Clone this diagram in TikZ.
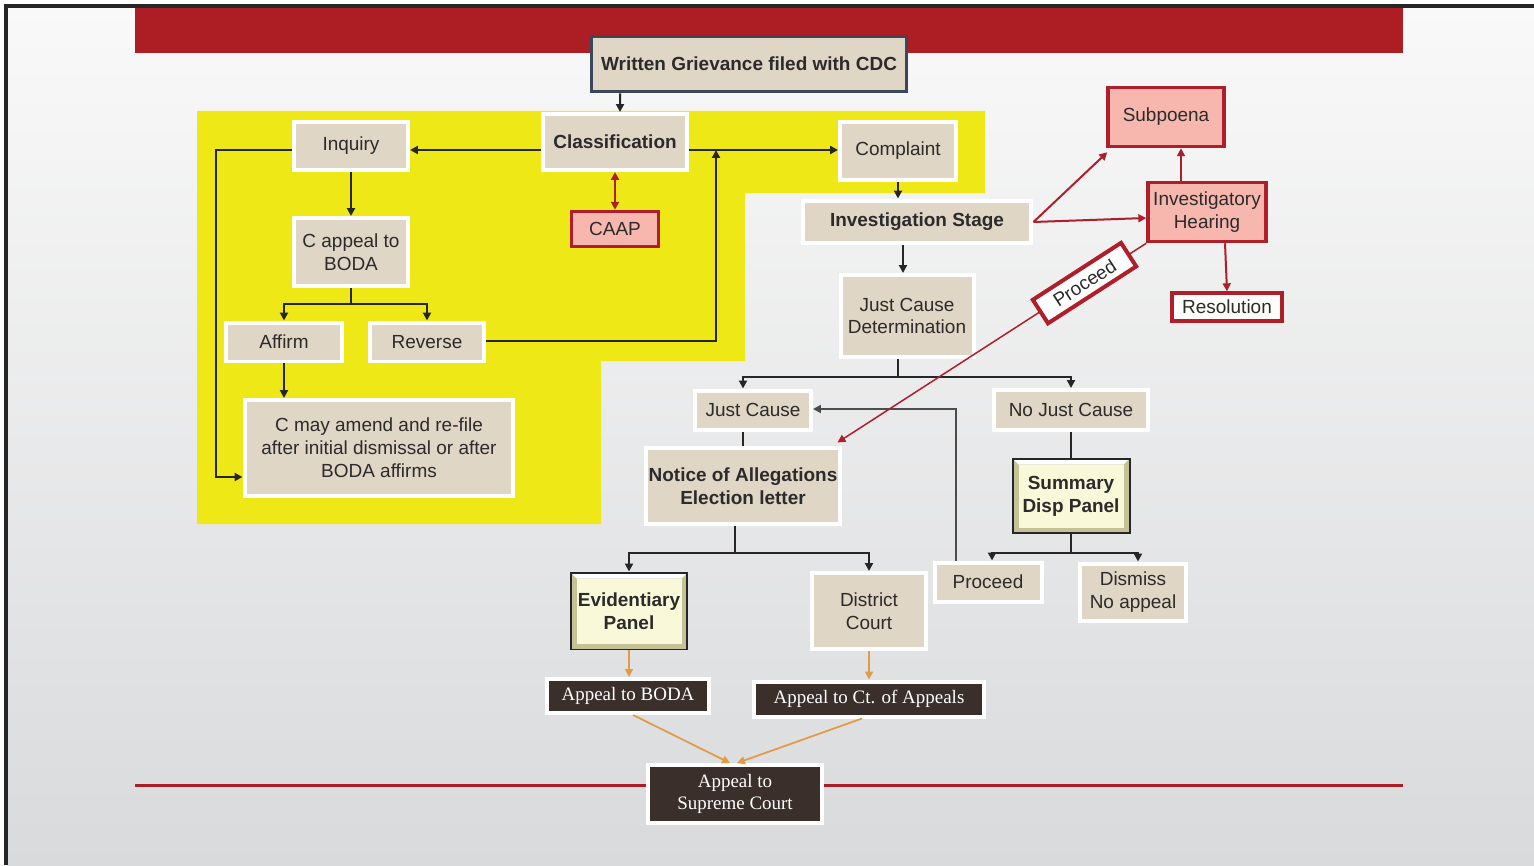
\documentclass[tikz,border=0pt]{standalone}
\usepackage{fontspec}
\setmainfont{Liberation Sans}
\newfontfamily\courtfont{Liberation Serif}
\usepackage{tikz}
\usetikzlibrary{arrows.meta,positioning,calc}
\definecolor{bandred}{HTML}{AC1D24}
\definecolor{areayellow}{HTML}{EEE817}
\definecolor{boxbeige}{HTML}{DFD6C6}
\definecolor{pinkfill}{HTML}{F7B6AE}
\definecolor{redline}{HTML}{AF1F2B}
\definecolor{courtdark}{HTML}{3A2F2B}
\definecolor{panelyellow}{HTML}{F9F9DA}
\definecolor{panelshade}{HTML}{C4C296}
\definecolor{appealorange}{HTML}{E39A45}
\definecolor{slate}{HTML}{3D4558}
\definecolor{bgtop}{HTML}{F9F9F9}
\definecolor{bgbot}{HTML}{D9DADC}
\definecolor{inktext}{HTML}{2B2B2B}
\newcommand{\boxfont}{\fontsize{10.8}{13}\selectfont}
\tikzset{
  stage/.style={draw=white, line width=0.08cm, fill=boxbeige, text=inktext,
    align=center, inner sep=0pt, font=\boxfont},
  keystage/.style={stage, font=\boxfont\bfseries},
  redbox/.style={draw=redline, line width=0.07cm, fill=pinkfill, text=inktext,
    align=center, inner sep=0pt, font=\boxfont},
  panel/.style={draw=black!85, line width=0.04cm, fill=panelyellow, text=inktext,
    align=center, inner sep=0pt, font=\boxfont\bfseries,
    path picture={
      \fill[panelshade] (path picture bounding box.south west) rectangle (path picture bounding box.north east);
      \fill[white] (path picture bounding box.north west) -- (path picture bounding box.north east)
        -- ($(path picture bounding box.north east)+(-0.12cm,-0.12cm)$)
        -- ($(path picture bounding box.north west)+(0.12cm,-0.12cm)$) -- cycle;
      \fill[panelyellow] ($(path picture bounding box.south west)+(0.12cm,0.12cm)$) rectangle ($(path picture bounding box.north east)+(-0.12cm,-0.12cm)$);
    }},
  court/.style={draw=white, line width=0.08cm, fill=courtdark, text=white,
    align=center, inner sep=0pt, font=\courtfont\boxfont},
  conn/.style={draw=black!85, line width=0.04cm},
  redconn/.style={draw=redline, line width=0.04cm},
  appealconn/.style={draw=appealorange, line width=0.035cm},
  proceedtag/.style={draw=redline, line width=0.08cm, fill=white, text=inktext,
    inner sep=0pt, minimum width=2.1cm, minimum height=0.56cm, font=\boxfont}
}

\begin{document}
\begin{tikzpicture}[x=0.02cm, y=-0.02cm, >={Triangle[length=4.5pt,width=4.5pt]}]
    % background and frame
    \useasboundingbox (0,0) rectangle (1534,865);
    \fill[white] (0,0) rectangle (1534,865);
    \shade[top color=bgtop, bottom color=bgbot] (7,7) rectangle (1534,865);
    \draw[line width=0.07cm, black!85] (6,865) -- (6,6) -- (1534,6);
    \fill[bandred] (135,8) rectangle (1403,53);
    \draw[bandred, line width=0.06cm] (135,785) -- (1403,785);
    \fill[areayellow] (197,111) -- (985,111) -- (985,193) -- (745,193) -- (745,361)
      -- (601,361) -- (601,524) -- (197,524) -- cycle;

    % boxes
    \node[keystage, draw=slate, line width=0.06cm, minimum width=6.3cm, minimum height=1.12cm] (grievance) at (749,64) {Written Grievance filed with CDC};
    \node[keystage, minimum width=2.88cm, minimum height=1.12cm] (classif) at (615,142) {Classification};
    \node[stage, minimum width=2.28cm, minimum height=0.96cm] (inquiry) at (351,146) {Inquiry};
    \node[stage, minimum width=2.32cm, minimum height=1.16cm] (complaint) at (898,151) {Complaint};
    \node[redbox, minimum width=1.74cm, minimum height=0.70cm] (caap) at (615,229) {CAAP};
    \node[stage, minimum width=2.28cm, minimum height=1.36cm] (cappeal) at (351,252) {C appeal to\\BODA};
    \node[keystage, minimum width=4.58cm, minimum height=0.86cm] (invstage) at (917,222) {Investigation Stage};
    \node[stage, minimum width=2.66cm, minimum height=1.64cm] (jcd) at (907,316) {Just Cause\\Determination};
    \node[redbox, minimum width=2.32cm, minimum height=1.18cm] (subpoena) at (1166,117) {Subpoena};
    \node[redbox, minimum width=2.36cm, minimum height=1.18cm] (ihearing) at (1207,212) {Investigatory\\Hearing};
    \node[redbox, fill=white!95!boxbeige, minimum width=2.2cm, minimum height=0.56cm] (resolution) at (1227,307) {Resolution};
    \node[stage, minimum width=2.32cm, minimum height=0.78cm] (affirm) at (284,342) {Affirm};
    \node[stage, minimum width=2.30cm, minimum height=0.78cm] (reverse) at (427,342) {Reverse};
    \node[stage, minimum width=5.38cm, minimum height=1.92cm] (amend) at (379,448) {C may amend and re-file\\after initial dismissal or after\\BODA affirms};
    \node[stage, minimum width=2.32cm, minimum height=0.78cm] (justcause) at (753,410) {Just Cause};
    \node[stage, minimum width=3.08cm, minimum height=0.80cm] (nojust) at (1071,410) {No Just Cause};
    \node[keystage, minimum width=3.9cm, minimum height=1.54cm] (notice) at (743,486) {Notice of Allegations\\Election letter};
    \node[panel, minimum width=2.34cm, minimum height=1.5cm] (summary) at (1071,496) {Summary\\Disp Panel};
    \node[panel, minimum width=2.34cm, minimum height=1.54cm] (evid) at (629,611) {Evidentiary\\Panel};
    \node[stage, minimum width=2.28cm, minimum height=1.52cm] (district) at (869,611) {District\\Court};
    \node[stage, minimum width=2.14cm, minimum height=0.78cm] (proceed) at (988,582) {Proceed};
    \node[stage, minimum width=2.12cm, minimum height=1.14cm] (dismiss) at (1133,592) {Dismiss\\No appeal};
    \node[court, minimum width=3.26cm, minimum height=0.68cm] (apboda) at (628,696) {Appeal to BODA};
    \node[court, minimum width=4.6cm, minimum height=0.70cm] (apct) at (869,699) {Appeal to Ct. of Appeals};
    \node[court, minimum width=3.48cm, minimum height=1.16cm] (supreme) at (735,794) {Appeal to\\Supreme Court};

    % bend points
    \coordinate (mainline) at (0,150);
    \coordinate (loopend) at (216,477);
    \coordinate (revup) at (716,341);
    \coordinate (split1) at (351,304);
    \coordinate (split2) at (898,377);
    \coordinate (split3) at (1071,553);
    \coordinate (split4) at (735,553);
    \coordinate (backup) at (956,409);

    % classification side
    \draw[conn,->] ([xshift=-2.58cm]grievance.south) -- ([xshift=0.1cm]classif.north);
    \draw[conn,->] (classif.west |- mainline) -- (inquiry.east |- mainline);
    \draw[conn,->] (classif.east |- mainline) -- (complaint.west |- mainline);
    \draw[redline, line width=0.04cm, <->] (classif.south) -- (caap.north);
    \draw[conn,->] (inquiry.south) -- (cappeal.north);
    \draw[conn,->] (inquiry.west |- mainline) -| (loopend) -- (loopend -| amend.west);
    \draw[conn] (cappeal.south) -- (split1);
    \draw[conn,->] (split1) -| (affirm.north);
    \draw[conn,->] (split1) -| (reverse.north);
    \draw[conn,->] (affirm.south) -- (affirm.south |- amend.north);
    \draw[conn,->] (reverse.east |- revup) -- (revup) -- (revup |- mainline);

    % investigation side
    \draw[conn,->] (complaint.south) -- (complaint.south |- invstage.north);
    \draw[conn,->] ([xshift=-0.08cm]invstage.south -| jcd) -- ([xshift=-0.08cm]jcd.north);
    \draw[conn] (jcd.south -| split2) -- (split2);
    \draw[conn,->] (split2) -- (split2 -| notice) -- (notice |- justcause.north);
    \draw[conn,->] (split2) -| (nojust.north);
    \draw[conn] (notice |- justcause.south) -- (notice.north);
    \draw[conn, draw=black!70,->] (proceed.north -| backup) -- (backup) -- (justcause.east |- backup);
    \draw[conn] (nojust.south) -- (summary.north);
    \draw[conn] (summary.south) -- (split3);
    \draw[conn,->] (split3) -| ([xshift=0.08cm]proceed.north);
    \draw[conn,->] (split3) -| ([xshift=0.1cm]dismiss.north);
    \draw[conn] (notice.south -| split4) -- (split4);
    \draw[conn,->] (split4) -| (evid.north);
    \draw[conn,->] (split4) -| (district.north);

    % appeals
    \draw[appealconn,->] (evid.south) -- (evid.south |- apboda.north);
    \draw[appealconn,->] (district.south) -- (district.south |- apct.north);
    \draw[appealconn,->] ([xshift=0.1cm]apboda.south) -- ([xshift=-0.1cm]supreme.north);
    \draw[appealconn,->] ([xshift=-0.14cm]apct.south) -- ([xshift=0.04cm]supreme.north);

    % hearing branch
    \draw[redconn,->] (invstage.east) -- ([shift={(0.02cm,-0.08cm)}]subpoena.south west);
    \draw[redconn,->] (invstage.east) -- ([yshift=-0.12cm]ihearing.west);
    \draw[redconn,->] ([xshift=-0.52cm]ihearing.north) -- ([xshift=-0.52cm]ihearing.north |- subpoena.south);
    \draw[redconn,->] ([xshift=0.36cm]ihearing.south) -- (resolution.north);
    \draw[redline, line width=0.03cm,->] (ihearing.south west) -- node[proceedtag, pos=0.2, sloped] (proceedlabel) {Proceed} ([shift={(-0.1cm,0.06cm)}]notice.north east);
\end{tikzpicture}
\end{document}
